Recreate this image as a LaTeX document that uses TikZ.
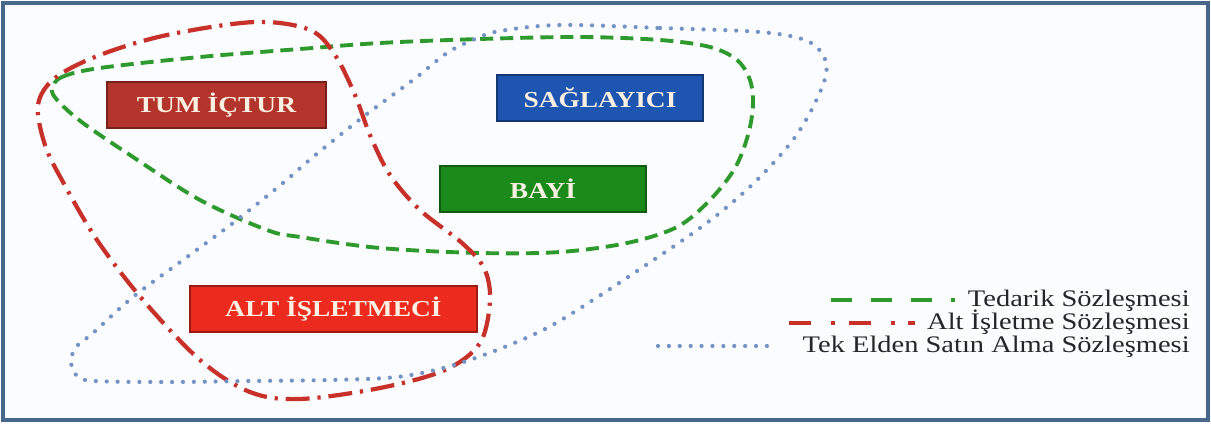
\documentclass[tikz,border=0pt]{standalone}
\usepackage{fontspec}
\setmainfont{Liberation Serif}
\newfontfamily\boxfont[FakeStretch=1.2]{Liberation Serif}
\newfontfamily\legendfont[FakeStretch=1.2]{Liberation Serif}
\usepackage{tikz}
\usetikzlibrary{positioning,calc}
\definecolor{framebd}{HTML}{48678A}
\definecolor{pagebg}{HTML}{FBFCFE}
\definecolor{tumred}{HTML}{B3342A}
\definecolor{supblue}{HTML}{1D55B0}
\definecolor{dealgreen}{HTML}{1A8A1A}
\definecolor{subred}{HTML}{EC2A1E}
\definecolor{cream}{HTML}{FCF0E2}
\definecolor{supplyln}{HTML}{2E9A2E}
\definecolor{subln}{HTML}{C8302A}
\definecolor{singleln}{HTML}{7393C4}
\tikzset{
  partybox/.style={draw=#1!65!black,fill=#1,line width=0.8pt,
                   minimum height=0.92cm,inner sep=0pt,text=cream,
                   font=\boxfont\bfseries\fontsize{13}{15}\selectfont},
  supplyline/.style={supplyln,line width=2.2pt,
                     dash pattern=on 7.4pt off 4pt},
  subline/.style={subln,line width=2.4pt,
                  dash pattern=on 13.6pt off 4.5pt on 1.8pt off 4.5pt},
  singleline/.style={singleln,line width=2.4pt,line cap=round,
                     dash pattern=on 0pt off 6.2pt},
  legendtext/.style={anchor=base east,inner sep=0pt,text=black!85,
                     text height=8.5pt,text depth=1.5pt,
                     font=\legendfont\fontsize{13.5}{15}\selectfont},
}

\begin{document}
\begin{tikzpicture}[x=0.02cm,y=-0.02cm]
  \useasboundingbox (0,0) rectangle (1211,423);
  % Frame
  \fill[pagebg] (0,0) rectangle (1211,423);
  \draw[framebd,line width=2pt] (3,3) rectangle (1208,420);
  % Tedarik contour
  \draw[supplyline] plot[smooth cycle,tension=0.55] coordinates {
    (52,89) (62,77) (100,68) (200,57) (300,49) (380,43) (480,39)
    (580,37) (660,40) (710,47) (737,60) (750,80) (753,105) (748,135)
    (735,168) (710,200) (677,227) (627,243) (560,252) (480,253)
    (380,248) (300,237) (267,230) (200,200) (133,157) (83,123) (58,101)};
  % Alt isletme contour
  \draw[subline] plot[smooth cycle,tension=0.55] coordinates {
    (255,22) (167,35) (100,55) (55,78) (38,105) (45,145) (63,182)
    (97,240) (143,300) (200,360) (250,392) (300,399) (380,388)
    (445,370) (480,343) (490,300) (484,268) (462,243) (420,210)
    (390,175) (370,135) (355,95) (335,55) (310,30)};
  % Tek elden contour
  \draw[singleline] plot[smooth cycle,tension=0.55] coordinates {
    (560,25) (660,28) (760,32) (805,40) (823,55) (826,75) (813,107)
    (793,140) (760,177) (727,207) (693,233) (643,267) (593,300)
    (547,328) (497,350) (447,367) (397,377) (330,380) (250,381)
    (167,382) (95,381) (77,376) (71,362) (76,347) (93,333) (133,297)
    (183,260) (233,223) (283,183) (313,157) (363,117) (413,80)
    (447,53) (475,39) (500,31)};
  % Parties
  \node[partybox=tumred,minimum width=4.38cm] (tumictur) at (216.5,105) {TUM İÇTUR};
  \node[partybox=supblue,minimum width=4.12cm] (saglayici) at (600,98) {SAĞLAYICI};
  \node[partybox=dealgreen,minimum width=4.12cm] (bayi) at (543,189) {BAYİ};
  \node[partybox=subred,minimum width=5.74cm] (altisletmeci) at (333.5,309) {ALT İŞLETMECİ};
  % Legend
  \node[legendtext] (legtedarik) at (1190,306) {Tedarik Sözleşmesi};
  \node[legendtext] (legalt) at (1190,329) {Alt İşletme Sözleşmesi};
  \node[legendtext] (legtek) at (1190,352) {Tek Elden Satın Alma Sözleşmesi};
  \coordinate (tedarikA) at (831,300);
  \coordinate (tedarikB) at (955,300);
  \coordinate (altA) at (789,323);
  \coordinate (altB) at (915,323);
  \coordinate (tekA) at (658,346);
  \coordinate (tekB) at (771,346);
  \draw[supplyline,dash pattern=on 11.9pt off 10.8pt] (tedarikA) -- (tedarikB);
  \draw[subline,dash pattern=on 12.5pt off 11.3pt on 2.3pt off 7.9pt] (altA) -- (altB);
  \draw[singleline] (tekA) -- (tekB);
\end{tikzpicture}
\end{document}
